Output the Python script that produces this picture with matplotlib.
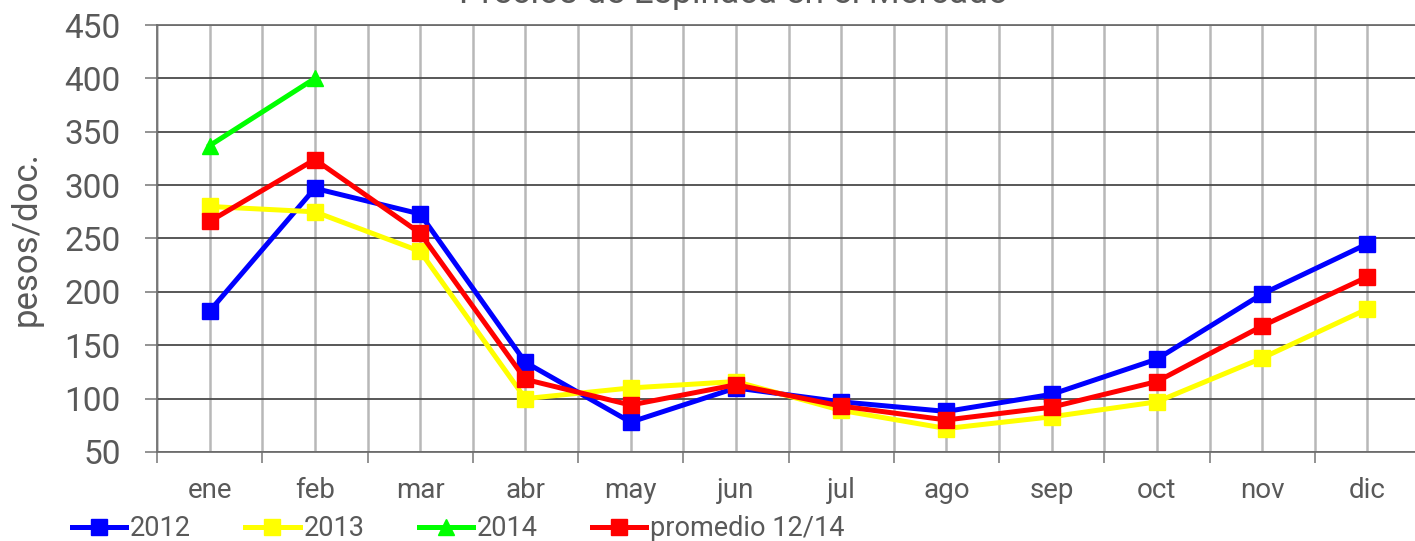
import matplotlib
matplotlib.use("Agg")
import matplotlib.pyplot as plt
from matplotlib.ticker import FixedLocator, NullFormatter

months = ["ene", "feb", "mar", "abr", "may", "jun", "jul", "ago", "sep", "oct", "nov", "dic"]
s2012 = [182, 297, 273, 134, 78, 110, 97, 88, 104, 137, 198, 245]
s2013 = [280, 275, 238, 100, 110, 116, 89, 72, 83, 97, 138, 184]
s2014 = [337, 400]
promedio = [266, 324, 255, 118, 94, 113, 93, 80, 92, 116, 168, 214]
yticks = [50, 100, 150, 200, 250, 300, 350, 400, 450]

plt.rcParams['font.family'] = ['Roboto', 'DejaVu Sans']
txt = '#595959'

fig = plt.figure(figsize=(14.15, 5.41), dpi=100)
ax = fig.add_axes([157/1415, 1 - 452/541, (1420 - 157)/1415, (452 - 25)/541])

x = list(range(len(months)))
lw = 3.6
ms = 11
ax.plot(x, s2012, color='#0000ff', lw=lw, marker='s', ms=ms, label='2012')
ax.plot(x, s2013, color='#ffff00', lw=lw, marker='s', ms=ms, label='2013')
ax.plot(x[:len(s2014)], s2014, color='#00ff00', lw=lw, marker='^', ms=ms + 1, label='2014')
ax.plot(x, promedio, color='#ff0000', lw=lw, marker='s', ms=ms, label='promedio 12/14')

ax.set_xlim(-0.5, len(months) - 0.5)
ax.set_ylim(50, 450)
ax.set_yticks(yticks)
ax.set_xticks(x)
ax.set_xticklabels(months)
ax.xaxis.set_minor_locator(FixedLocator([i - 0.5 for i in range(len(months) + 1)]))
ax.xaxis.set_minor_formatter(NullFormatter())

ax.tick_params(axis='x', which='major', length=0, pad=18, labelsize=20, labelcolor=txt)
ax.tick_params(axis='x', which='minor', length=8, width=1.2, color='#808080', direction='out')
ax.tick_params(axis='y', which='major', length=9, width=1.2, color='#808080', labelsize=24,
               labelcolor=txt, pad=17)

ax.grid(True, axis='x', which='both', color='#b8b8b8', lw=1.8, zorder=0)
ax.grid(True, axis='y', which='major', color='#4a4a4a', lw=1.3, zorder=0)
ax.set_axisbelow(True)

for s in ['left', 'bottom', 'top']:
    ax.spines[s].set_color('#707070')
    ax.spines[s].set_linewidth(1.3)
ax.spines['right'].set_visible(False)

ax.set_ylabel('pesos/doc.', fontsize=25, color=txt, labelpad=16)

fig.text(734/1415, 1 - 3/541, 'Precios de Espinaca en el Mercado', fontsize=25.5,
         color=txt, ha='center', va='baseline')

fig.legend(loc='center left', bbox_to_anchor=(72/1415, 12/541), ncol=4, frameon=False,
           fontsize=19.5, handlelength=2.0, handletextpad=0.15, columnspacing=2.0,
           labelcolor=txt, borderpad=0, borderaxespad=0)

fig.savefig('out.png', dpi=100)
